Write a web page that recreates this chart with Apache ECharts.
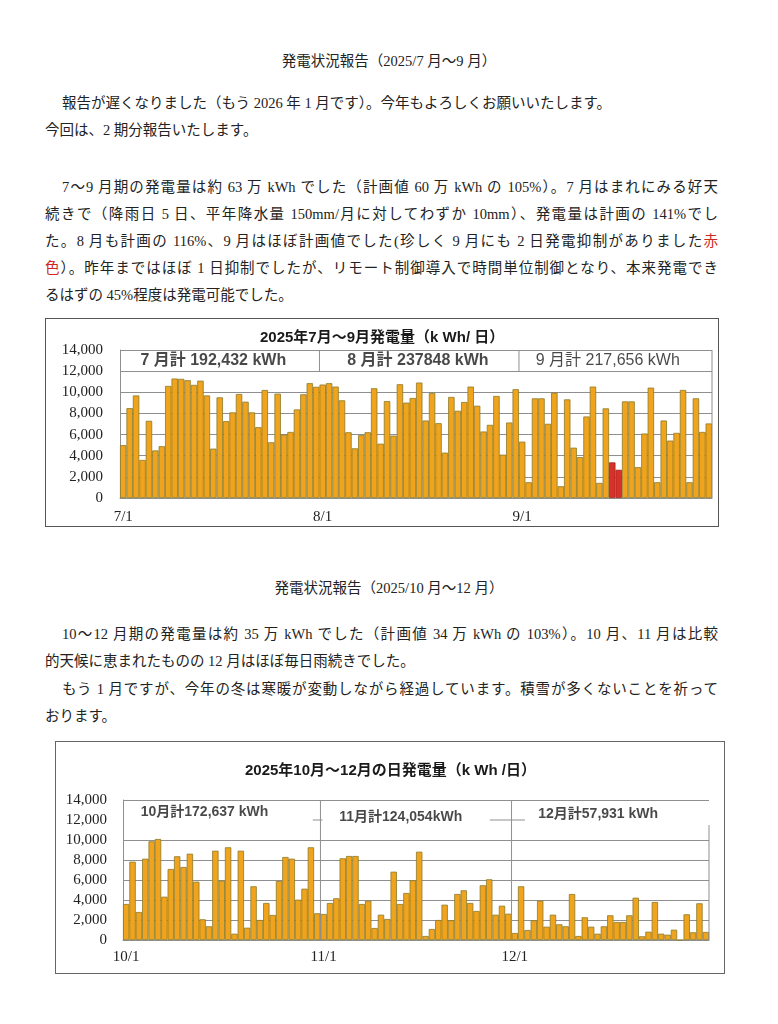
<!DOCTYPE html>
<html><head><meta charset="utf-8">
<script src="https://cdn.jsdelivr.net/npm/echarts@6/dist/echarts.min.js"></script>
<style>
body{margin:0;background:#fff;width:778px;height:1024px;position:relative;overflow:hidden;font-family:"Liberation Serif","Noto Sans CJK JP",serif;color:#222;}
.l{position:absolute;left:45px;width:673px;font-size:14.5px;line-height:20px;white-space:nowrap;}
.j{text-align:justify;text-align-last:justify;}
.i{text-indent:17px;}
.c{left:0;width:778px;text-align:center;}
.r{color:#d0281e;}
#c1{position:absolute;left:45px;top:318px;width:672px;height:207px;border:1px solid #555;}
#c2{position:absolute;left:55px;top:741px;width:668px;height:231px;border:1px solid #666;}
</style></head>
<body>
<div class="l c" style="top:51px">発電状況報告（2025/7 月～9 月）</div>
<div class="l i" style="top:93px">報告が遅くなりました（もう 2026 年 1 月です）。今年もよろしくお願いいたします。</div>
<div class="l" style="top:120px">今回は、2 期分報告いたします。</div>
<div class="l i j" style="top:177px">7～9 月期の発電量は約 63 万 kWh でした（計画値 60 万 kWh の 105%）。7 月はまれにみる好天</div>
<div class="l j" style="top:204px">続きで（降雨日 5 日、平年降水量 150mm/月に対してわずか 10mm）、発電量は計画の 141%でし</div>
<div class="l j" style="top:231px">た。8 月も計画の 116%、9 月はほぼ計画値でした(珍しく 9 月にも 2 日発電抑制がありました<span class="r">赤</span></div>
<div class="l j" style="top:258px"><span class="r">色</span>）。昨年まではほぼ 1 日抑制でしたが、リモート制御導入で時間単位制御となり、本来発電でき</div>
<div class="l" style="top:285px">るはずの 45%程度は発電可能でした。</div>
<div id="c1"></div>
<div class="l c" style="top:578px">発電状況報告（2025/10 月～12 月）</div>
<div class="l i j" style="top:624px">10～12 月期の発電量は約 35 万 kWh でした（計画値 34 万 kWh の 103%）。10 月、11 月は比較</div>
<div class="l" style="top:651px">的天候に恵まれたものの 12 月はほぼ毎日雨続きでした。</div>
<div class="l i j" style="top:679px">もう 1 月ですが、今年の冬は寒暖が変動しながら経過しています。積雪が多くないことを祈って</div>
<div class="l" style="top:706px">おります。</div>
<div id="c2"></div>
<script>
// ---- data: chart 1 (2025 Jul-Sep, kWh/day) ----
const months1 = [7, 8, 9];
const monthDays1 = [31, 31, 30];
const julGen = [5000, 8500, 9700, 3600, 7300, 4500, 4900, 10600, 11300, 11270, 11140, 10700, 11100, 9700, 4670, 9520, 7270, 8100, 9840, 9110, 8100, 6700, 10220, 5270, 9870, 6000, 6250, 8380, 9810, 10860, 10520];
const augGen = [10730, 10860, 10540, 9240, 6220, 4700, 5940, 6220, 10380, 5140, 9170, 5900, 10760, 9020, 9460, 10920, 7330, 9940, 7080, 4290, 9560, 8250, 9080, 10540, 8730, 6290, 6920, 9650, 4100, 7140, 10290];
const sepGen = [5330, 1490, 9430, 9430, 7020, 9970, 1110, 9330, 4760, 3870, 7710, 10540, 1430, 8480, 3370, 2670, 9140, 9140, 2920, 6100, 10440, 1490, 7330, 5430, 6160, 10220, 1490, 9430, 6250, 7050];
const curtailed1 = ['9/15', '9/16'];
const totals1 = ['7 月計 192,432 kWh', '8 月計 237848 kWh', '9 月計 217,656 kWh'];
const title1 = '2025年7月～9月発電量（k Wh/ 日）';

// ---- data: chart 2 (2025 Oct-Dec, kWh/day) ----
const months2 = [10, 11, 12];
const monthDays2 = [31, 30, 31];
const octGen = [3600, 7830, 2800, 8130, 9870, 10100, 4330, 7100, 8370, 7300, 8630, 5830, 2070, 1370, 8930, 5930, 9270, 630, 8930, 1230, 5370, 2000, 3700, 2500, 5900, 8300, 8130, 4030, 5130, 9270, 2670];
const novGen = [2600, 3700, 4170, 8170, 8400, 8400, 3600, 3930, 1200, 2530, 2100, 6830, 3600, 4700, 5970, 8830, 400, 1100, 2000, 3530, 1970, 4600, 4970, 3700, 2900, 5470, 6070, 2530, 3430, 2630];
const decGen = [700, 5370, 1000, 1970, 3930, 1330, 2530, 1570, 1370, 4600, 400, 2270, 1330, 630, 1370, 2470, 1800, 1800, 2470, 4230, 370, 830, 3800, 630, 530, 1030, 0, 2570, 770, 3670, 800];
const curtailed2 = [];
const totals2 = ['10月計172,637 kWh', '11月計124,054kWh', '12月計57,931 kWh'];
const title2 = '2025年10月～12月の日発電量（k Wh /日）';

const yTicks = [0, 2000, 4000, 6000, 8000, 10000, 12000, 14000];

function cats(months, days) {
  const out = [];
  months.forEach((m, k) => { for (let d = 1; d <= days[k]; d++) out.push(m + '/' + d); });
  return out;
}
function fmt(v) { return String(v).replace(/\B(?=(\d{3})+(?!\d))/g, ','); }

const ORANGE = '#f0a31c', ORANGE_B = '#8c7b2a', RED = '#d8302a', RED_B = '#9a2a1e', GRID = '#8f8f8f';
const SANS = '"Liberation Sans","Noto Sans CJK JP",sans-serif';
const SERIF = '"Liberation Serif","Noto Sans CJK JP",serif';

function seg(x1, y1, x2, y2) {
  return { type: 'line', xAxisIndex: 1, yAxisIndex: 0, data: [[x1, y1], [x2, y2]], symbol: 'none', silent: true,
    lineStyle: { color: GRID, width: 1 }, z: 3, animation: false };
}

function build(cfg) {
  const categories = cats(cfg.months, cfg.days);
  const values = [].concat(...cfg.gen);
  const n = categories.length;
  const starts = []; let acc = 0;
  cfg.days.forEach(d => { starts.push(acc); acc += d; });
  const bounds = starts.slice(1);
  const barData = values.map((v, i) => cfg.curtailed.includes(categories[i])
    ? { value: v, itemStyle: { color: RED, borderColor: RED_B } } : v);
  const series = [{
    type: 'bar', data: barData, barCategoryGap: '0%', animation: false,
    itemStyle: { color: ORANGE, borderColor: ORANGE_B, borderWidth: 0.8 }, z: 2
  }];
  // plot right border
  series.push(seg(n, 0, n, cfg.rightTop));
  // month dividers
  bounds.forEach(b => series.push(seg(b, cfg.divFrom, b, 14000)));
  (cfg.extraSegs || []).forEach(s => series.push(seg(s[0], s[1], s[2], s[3])));
  // month totals
  series.push({
    type: 'scatter', xAxisIndex: 1, yAxisIndex: 0, symbolSize: 1, silent: true, animation: false, z: 5,
    itemStyle: { color: 'rgba(0,0,0,0)' },
    data: cfg.totals.map((t, k) => ({
      value: cfg.labelPos[k],
      label: { show: true, position: 'inside', formatter: t, color: '#1a1a1a', fontFamily: SANS,
        fontSize: cfg.labelSize[k], fontWeight: cfg.labelWeight[k] }
    }))
  });
  return {
    animation: false,
    title: { text: cfg.title, left: cfg.titleLeft, top: cfg.titleTop,
      textStyle: { fontFamily: SANS, fontSize: 15, fontWeight: 'bold', color: '#1a1a1a' } },
    grid: cfg.grid,
    xAxis: [{
      type: 'category', data: categories, boundaryGap: true,
      axisLine: { show: true, lineStyle: { color: GRID } }, axisTick: { show: false },
      axisLabel: { interval: (i) => starts.includes(i), fontFamily: SERIF, fontSize: 15, color: '#222', margin: cfg.xMargin }
    }, { type: 'value', min: 0, max: n, show: false }],
    yAxis: {
      type: 'value', min: yTicks[0], max: yTicks[yTicks.length - 1], interval: yTicks[1] - yTicks[0],
      axisLine: { show: true, lineStyle: { color: GRID } }, axisTick: { show: false },
      axisLabel: { formatter: v => fmt(v), fontFamily: SERIF, fontSize: 15, color: '#222', margin: cfg.yMargin },
      splitLine: { show: true, lineStyle: { color: cfg.splitColors, width: 1 } }
    },
    series
  };
}

const allGrid = yTicks.map(() => GRID);
const chart1 = echarts.init(document.getElementById('c1'), null, { renderer: 'canvas' });
chart1.setOption(build({
  months: months1, days: monthDays1, gen: [julGen, augGen, sepGen], curtailed: curtailed1, totals: totals1,
  title: title1, titleLeft: 209, titleTop: 6,
  grid: { left: 74, top: 31, right: 6, bottom: 28 },
  rightTop: 14000, divFrom: 12000,
  labelPos: [[14.5, 13000], [46.3, 13000], [75.8, 13000]],
  labelSize: [16, 16, 16], labelWeight: ['bold', 'bold', 'normal'],
  xMargin: 12, yMargin: 17, splitColors: allGrid
}));

const split2 = yTicks.map(t => t === 12000 ? 'rgba(0,0,0,0)' : GRID);
const chart2 = echarts.init(document.getElementById('c2'), null, { renderer: 'canvas' });
chart2.setOption(build({
  months: months2, days: monthDays2, gen: [octGen, novGen, decGen], curtailed: curtailed2, totals: totals2,
  title: title2, titleLeft: 184, titleTop: 16,
  grid: { left: 67, top: 58, right: 15, bottom: 33 },
  rightTop: 11500, divFrom: 0,
  extraSegs: [[29.8, 12000, 31.3, 12000], [57.6, 12000, 63.1, 12000]],
  labelPos: [[12.8, 12830], [43.6, 12300], [74.6, 12600]],
  labelSize: [14, 14, 14], labelWeight: ['bold', 'bold', 'bold'],
  xMargin: 10, yMargin: 16, splitColors: split2
}));
</script>
</body></html>
